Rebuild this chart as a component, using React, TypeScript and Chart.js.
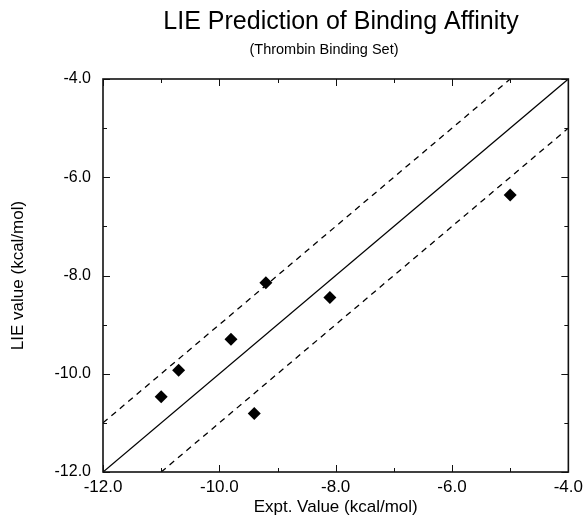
import React, { useEffect, useRef } from 'react';
import { Chart, registerables } from 'chart.js';

Chart.register(...registerables);

const TITLE = 'LIE Prediction of Binding Affinity';
const SUBTITLE = '(Thrombin Binding Set)';
const X_LABEL = 'Expt. Value (kcal/mol)';
const Y_LABEL = 'LIE value (kcal/mol)';

const AXIS_MIN = -12;
const AXIS_MAX = -4;
const MAJOR_TICKS = [-12, -10, -8, -6, -4];

// Measured points
const exptValues = [-11.0, -10.7, -9.8, -9.2, -9.4, -8.1, -5.0];
const lieValues = [-10.47, -9.93, -9.3, -8.15, -10.81, -8.45, -6.36];

// Reference lines: y = x, y = x + 1, y = x - 1
const identityX = [-12, -4];
const identityY = [-12, -4];
const upperX = [-12, -5];
const upperY = [-11, -4];
const lowerX = [-11, -4];
const lowerY = [-12, -5];

const FONT = '"Liberation Sans", Arial, Helvetica, sans-serif';

const toPts = (xs: number[], ys: number[]) => xs.map((x, i) => ({ x, y: ys[i] }));

const framePlugin = {
  id: 'frameAndTitles',
  afterDraw(chart: any) {
    const { ctx, chartArea, scales } = chart;
    const { left, right, top, bottom } = chartArea;
    const xs = scales.x;
    const ys = scales.y;
    ctx.save();
    ctx.strokeStyle = '#111';
    ctx.lineWidth = 1;
    xs.ticks.forEach((t: any) => {
      const px = Math.round(xs.getPixelForValue(t.value)) + 0.5;
      const len = MAJOR_TICKS.includes(t.value) ? 7 : 4;
      ctx.beginPath();
      ctx.moveTo(px, bottom);
      ctx.lineTo(px, bottom - len);
      ctx.moveTo(px, top);
      ctx.lineTo(px, top + len);
      ctx.stroke();
    });
    ys.ticks.forEach((t: any) => {
      const py = Math.round(ys.getPixelForValue(t.value)) + 0.5;
      const len = MAJOR_TICKS.includes(t.value) ? 7 : 4;
      ctx.beginPath();
      ctx.moveTo(left, py);
      ctx.lineTo(left + len, py);
      ctx.moveTo(right, py);
      ctx.lineTo(right - len, py);
      ctx.stroke();
    });
    ctx.lineWidth = 1.6;
    ctx.strokeStyle = '#111';
    ctx.strokeRect(left, top, right - left, bottom - top);

    ctx.fillStyle = '#000';
    ctx.textAlign = 'center';
    ctx.textBaseline = 'alphabetic';
    ctx.font = `25px ${FONT}`;
    ctx.fillText(TITLE, 341, 29);
    ctx.font = `14.5px ${FONT}`;
    ctx.fillText(SUBTITLE, 324, 54);
    ctx.restore();
  },
};

export default function App() {
  const ref = useRef<HTMLCanvasElement | null>(null);
  useEffect(() => {
    if (!ref.current) return;
    const tickCb = (v: any) => (MAJOR_TICKS.includes(Number(v)) ? Number(v).toFixed(1) : '');
    const chart = new Chart(ref.current, {
      type: 'scatter',
      data: {
        datasets: [
          {
            label: 'y = x',
            data: toPts(identityX, identityY),
            showLine: true,
            borderColor: '#000',
            borderWidth: 1.3,
            pointRadius: 0,
          },
          {
            label: 'y = x + 1',
            data: toPts(upperX, upperY),
            showLine: true,
            borderColor: '#000',
            borderWidth: 1.3,
            borderDash: [6, 5],
            pointRadius: 0,
          },
          {
            label: 'y = x - 1',
            data: toPts(lowerX, lowerY),
            showLine: true,
            borderColor: '#000',
            borderWidth: 1.3,
            borderDash: [6, 5],
            pointRadius: 0,
          },
          {
            label: 'Thrombin',
            data: toPts(exptValues, lieValues),
            showLine: false,
            pointStyle: 'rectRot',
            pointRadius: 6.5,
            backgroundColor: '#000',
            borderColor: '#000',
            borderWidth: 0,
          },
        ],
      },
      options: {
        responsive: false,
        animation: false,
        layout: { padding: { top: 79, right: 16, bottom: 0, left: 0 } },
        plugins: {
          legend: { display: false },
          tooltip: { enabled: false },
          title: { display: false },
        },
        scales: {
          x: {
            type: 'linear',
            min: AXIS_MIN,
            max: AXIS_MAX,
            grid: { display: false, drawTicks: false },
            border: { display: false },
            ticks: {
              stepSize: 1,
              autoSkip: false,
              maxRotation: 0,
              padding: 5,
              color: '#000',
              font: { family: FONT, size: 17 },
              callback: tickCb,
            },
            title: {
              display: true,
              text: X_LABEL,
              color: '#000',
              font: { family: FONT, size: 17 },
              padding: { top: 0, bottom: 0 },
            },
            afterFit: (s: any) => {
              s.height = 46;
            },
          },
          y: {
            type: 'linear',
            min: AXIS_MIN,
            max: AXIS_MAX,
            grid: { display: false, drawTicks: false },
            border: { display: false },
            ticks: {
              stepSize: 1,
              autoSkip: false,
              padding: 12,
              color: '#000',
              font: { family: FONT, size: 16 },
              callback: tickCb,
            },
            title: {
              display: true,
              text: Y_LABEL,
              color: '#000',
              font: { family: FONT, size: 17 },
              padding: { top: 8, bottom: 0 },
            },
            afterFit: (s: any) => {
              s.width = 103;
            },
          },
        },
      },
      plugins: [framePlugin],
    });
    return () => chart.destroy();
  }, []);
  return (
    <canvas
      ref={ref}
      width={588}
      height={518}
      style={{ position: 'fixed', left: 0, top: 0, width: 588, height: 518 }}
    />
  );
}
